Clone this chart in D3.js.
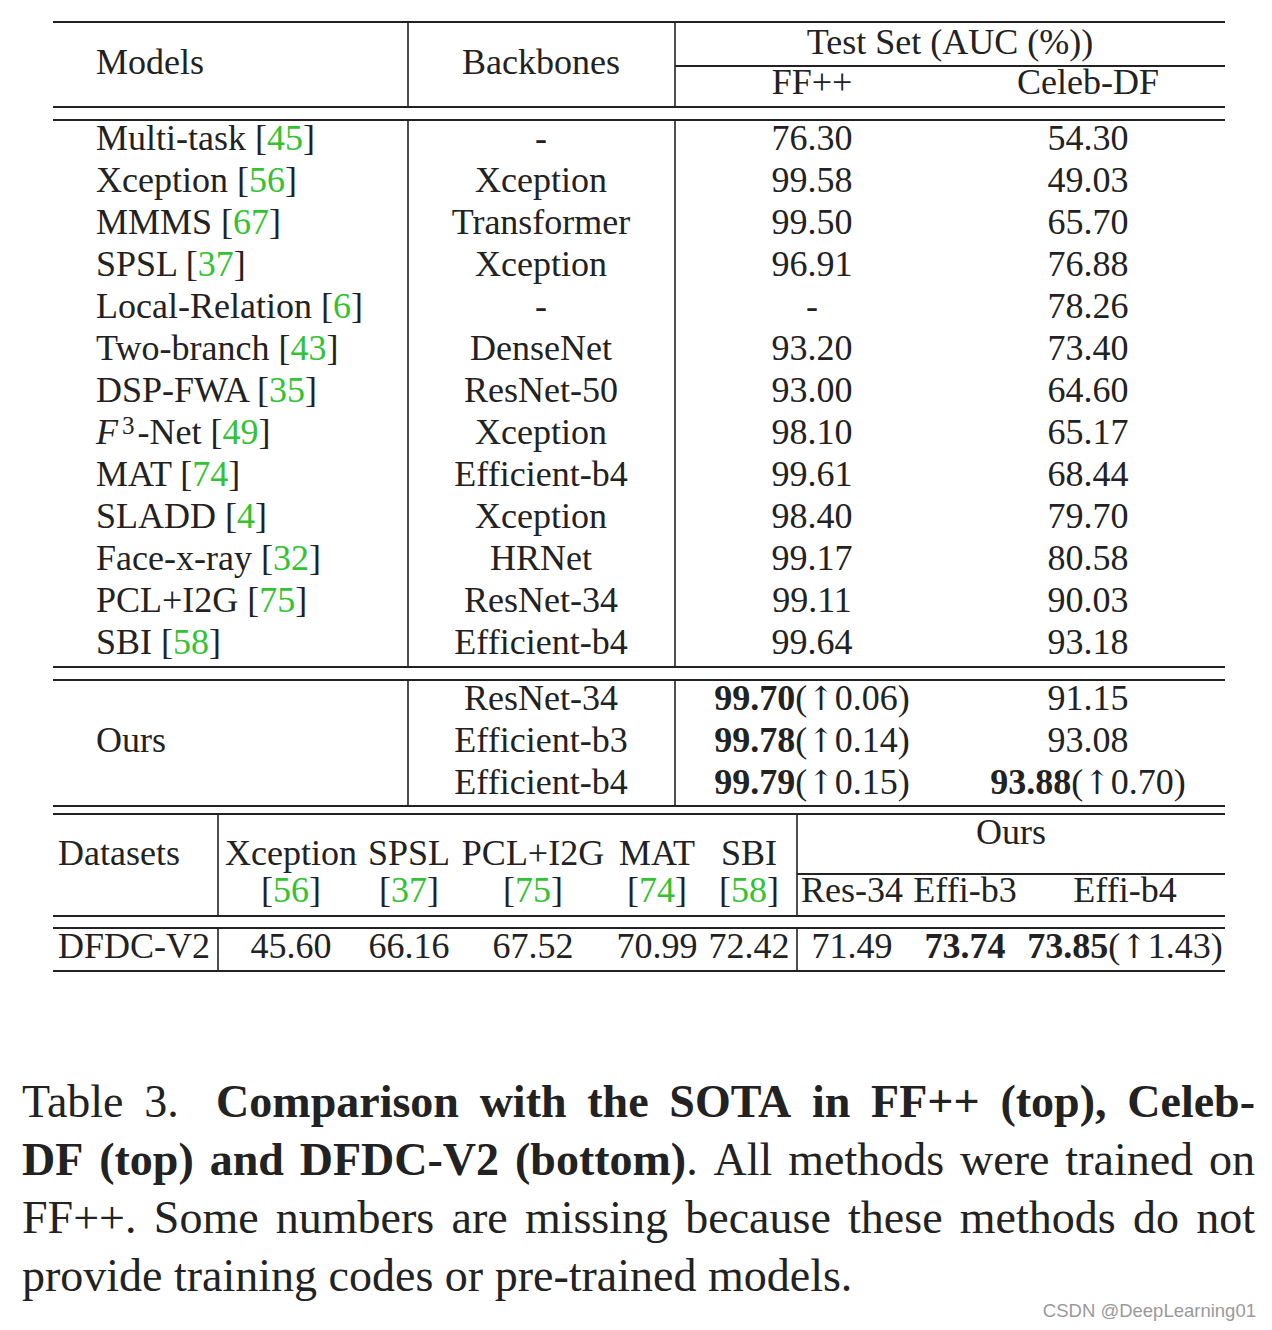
<!DOCTYPE html>
<html>
<head>
<meta charset="utf-8">
<title>Table 3</title>
<script src="https://cdnjs.cloudflare.com/ajax/libs/d3/7.8.5/d3.min.js"></script>
<style>
  body { margin: 0; background: #fff; }
  text { font-family: "Liberation Serif", "Times New Roman", serif; fill: #222; }
</style>
</head>
<body>
<div id="table"></div>
<script>
// ---- top table: FF++ / Celeb-DF ----
var models    = ["Multi-task", "Xception", "MMMS", "SPSL", "Local-Relation", "Two-branch", "DSP-FWA", "F3-Net", "MAT", "SLADD", "Face-x-ray", "PCL+I2G", "SBI"];
var modelRefs = ["45", "56", "67", "37", "6", "43", "35", "49", "74", "4", "32", "75", "58"];
var backbones = ["-", "Xception", "Transformer", "Xception", "-", "DenseNet", "ResNet-50", "Xception", "Efficient-b4", "Xception", "HRNet", "ResNet-34", "Efficient-b4"];
var ffpp      = ["76.30", "99.58", "99.50", "96.91", "-", "93.20", "93.00", "98.10", "99.61", "98.40", "99.17", "99.11", "99.64"];
var celebDF   = ["54.30", "49.03", "65.70", "76.88", "78.26", "73.40", "64.60", "65.17", "68.44", "79.70", "80.58", "90.03", "93.18"];

var oursBackbones = ["ResNet-34", "Efficient-b3", "Efficient-b4"];
var oursFFpp      = ["99.70", "99.78", "99.79"];
var oursFFppGain  = ["0.06", "0.14", "0.15"];
var oursCeleb     = ["91.15", "93.08", "93.88"];
var oursCelebGain = [null, null, "0.70"];

// ---- bottom table: DFDC-V2 ----
var dfdcMethods  = ["Xception", "SPSL", "PCL+I2G", "MAT", "SBI"];
var dfdcRefs     = ["56", "37", "75", "74", "58"];
var dfdcValues   = ["45.60", "66.16", "67.52", "70.99", "72.42"];
var oursDfdcName = ["Res-34", "Effi-b3", "Effi-b4"];
var oursDfdc     = ["71.49", "73.74", "73.85"];
var oursDfdcGain = [null, null, "1.43"];

// ---- caption ----
var captionLines = [
  [[["Table", 0]], [["3.", 0]], [["Comparison", 1]], [["with", 1]], [["the", 1]], [["SOTA", 1]], [["in", 1]], [["FF++", 1]], [["(top),", 1]], [["Celeb-", 1]]],
  [[["DF", 1]], [["(top)", 1]], [["and", 1]], [["DFDC-V2", 1]], [["(bottom)", 1], [".", 0]], [["All", 0]], [["methods", 0]], [["were", 0]], [["trained", 0]], [["on", 0]]],
  [[["FF++.", 0]], [["Some", 0]], [["numbers", 0]], [["are", 0]], [["missing", 0]], [["because", 0]], [["these", 0]], [["methods", 0]], [["do", 0]], [["not", 0]]],
  [[["provide", 0]], [["training", 0]], [["codes", 0]], [["or", 0]], [["pre-trained", 0]], [["models.", 0]]]
];

var W = 1272, H = 1330;
var ink = "#222", green = "#33c233";

var svg = d3.select("#table").append("svg")
  .attr("width", W).attr("height", H);
svg.append("rect").attr("width", W).attr("height", H).attr("fill", "#fff");

var lines = svg.append("g").attr("stroke", ink);
var cells = svg.append("g").style("font-size", "36px");

function hrule(y, x1, x2, w) {
  lines.append("line").attr("x1", x1).attr("x2", x2).attr("y1", y).attr("y2", y)
    .attr("stroke-width", w || 2);
}
function vrule(x, y1, y2) {
  lines.append("line").attr("x1", x).attr("x2", x).attr("y1", y1).attr("y2", y2)
    .attr("stroke-width", 1.6);
}

// parts: [{t, b (bold), g (green), i (italic), sup, arrow}]
function cell(x, yc, anchor, parts) {
  var t = cells.append("text").attr("x", x).attr("y", yc + 12).attr("text-anchor", anchor);
  parts.forEach(function(p) {
    var s = t.append("tspan").text(p.t);
    if (p.b) s.attr("font-weight", "bold");
    if (p.g) s.style("fill", green);
    if (p.i) s.attr("font-style", "italic");
    if (p.sup) s.attr("baseline-shift", "40%").style("font-size", "25px").attr("dx", 4);
    if (p.arrow) s.style("font-family", "'DejaVu Serif', serif").style("font-size", "33px");
  });
  return t;
}
function cited(name, ref) {
  return [{t: name + " ["}, {t: ref, g: 1}, {t: "]"}];
}
function withGain(v, gain, bold) {
  var p = [{t: v, b: bold}];
  if (gain) p.push({t: "("}, {t: "\u2191", arrow: 1}, {t: gain + ")"});
  return p;
}

// ---- top table geometry ----
var xL = 53, xR = 1225;
var col = d3.scaleOrdinal()
  .domain(["model", "backbone", "ffpp", "celeb"])
  .range([96, 541, 812, 1088]);
var vx1 = 408, vx2 = 675;

var rowY = d3.scalePoint().domain(d3.range(models.length)).range([138, 642]);
var oursY = d3.scalePoint().domain(d3.range(oursBackbones.length)).range([698, 782]);

// rules
hrule(22, xL, xR);
hrule(66, vx2, xR);
hrule(107, xL, xR);
hrule(120, xL, xR);
hrule(667, xL, xR);
hrule(680, xL, xR);
hrule(806, xL, xR);
[vx1, vx2].forEach(function(x) {
  vrule(x, 22, 107);
  vrule(x, 120, 667);
  vrule(x, 680, 806);
});

// header
cell(col("model"), 62, "start", [{t: "Models"}]);
cell(col("backbone"), 62, "middle", [{t: "Backbones"}]);
cell((vx2 + xR) / 2, 42, "middle", [{t: "Test Set (AUC (%))"}]);
cell(col("ffpp"), 82, "middle", [{t: "FF++"}]);
cell(col("celeb"), 82, "middle", [{t: "Celeb-DF"}]);

// body rows
models.forEach(function(m, i) {
  var y = rowY(i);
  var nameParts = m === "F3-Net"
    ? [{t: "F", i: 1}, {t: "3", sup: 1}, {t: "-Net [", }, {t: modelRefs[i], g: 1}, {t: "]"}]
    : cited(m, modelRefs[i]);
  var t = cell(col("model"), y, "start", nameParts);
  if (m === "F3-Net") t.select("tspan:nth-child(3)").attr("baseline-shift", null).attr("dx", 3);
  cell(col("backbone"), y, "middle", [{t: backbones[i]}]);
  cell(col("ffpp"), y, "middle", [{t: ffpp[i]}]);
  cell(col("celeb"), y, "middle", [{t: celebDF[i]}]);
});

// ours rows: bold where the score beats every previous method
var bestFF = d3.max(ffpp.filter(function(v) { return v !== "-"; }), Number);
var bestCeleb = d3.max(celebDF, Number);
cell(col("model"), oursY(1), "start", [{t: "Ours"}]);
oursBackbones.forEach(function(b, i) {
  var y = oursY(i);
  cell(col("backbone"), y, "middle", [{t: b}]);
  cell(col("ffpp"), y, "middle", withGain(oursFFpp[i], oursFFppGain[i], +oursFFpp[i] > bestFF));
  cell(col("celeb"), y, "middle", withGain(oursCeleb[i], oursCelebGain[i], +oursCeleb[i] > bestCeleb));
});

// ---- bottom table ----
var bx1 = 218, bx2 = 797;
var dfdcX = d3.scaleOrdinal().domain(dfdcMethods).range([291, 409, 533, 657, 749]);
var oursX = d3.scaleOrdinal().domain(oursDfdcName).range([852, 965, 1125]);

hrule(814, xL, xR);
hrule(874, bx2, xR);
hrule(916, xL, xR);
hrule(928, xL, xR);
hrule(971, xL, xR);
[bx1, bx2].forEach(function(x) {
  vrule(x, 814, 916);
  vrule(x, 928, 971);
});

cell(58, 853, "start", [{t: "Datasets"}]);
dfdcMethods.forEach(function(m, i) {
  cell(dfdcX(m), 853, "middle", [{t: m}]);
  cell(dfdcX(m), 890, "middle", [{t: "["}, {t: dfdcRefs[i], g: 1}, {t: "]"}]);
});
cell(1011, 832, "middle", [{t: "Ours"}]);
oursDfdcName.forEach(function(n) {
  cell(oursX(n), 890, "middle", [{t: n}]);
});

var bestDfdc = d3.max(dfdcValues, Number);
cell(58, 946, "start", [{t: "DFDC-V2"}]);
dfdcMethods.forEach(function(m, i) {
  cell(dfdcX(m), 946, "middle", [{t: dfdcValues[i]}]);
});
oursDfdcName.forEach(function(n, i) {
  cell(oursX(n), 946, "middle", withGain(oursDfdc[i], oursDfdcGain[i], +oursDfdc[i] > bestDfdc));
});

// ---- caption, justified like the LaTeX paragraph ----
var cap = svg.append("g").style("font-size", "46px");
var cx0 = 22, cx1 = 1255;
captionLines.forEach(function(words, li) {
  var y = 1117 + li * 58;
  var els = words.map(function(parts) {
    var t = cap.append("text").attr("y", y);
    parts.forEach(function(p) {
      var s = t.append("tspan").text(p[0]);
      if (p[1]) s.attr("font-weight", "bold");
    });
    return t;
  });
  var widths = els.map(function(t) { return t.node().getComputedTextLength(); });
  var last = li === captionLines.length - 1;
  // gap after "Table 3." is a wider quad
  var weights = words.slice(1).map(function(w, k) { return (li === 0 && k === 1) ? 1.8 : 1; });
  var gap = last ? 11.5 : (cx1 - cx0 - d3.sum(widths)) / d3.sum(weights);
  var x = cx0;
  els.forEach(function(t, k) {
    t.attr("x", x);
    x += widths[k] + (k < weights.length ? gap * weights[k] : 0);
  });
});

// watermark
svg.append("text")
  .attr("x", 1256).attr("y", 1317).attr("text-anchor", "end")
  .style("font-family", "'Liberation Sans', Arial, sans-serif")
  .style("font-size", "18.5px").style("fill", "#9a9a9a")
  .text("CSDN @DeepLearning01");
</script>
</body>
</html>
